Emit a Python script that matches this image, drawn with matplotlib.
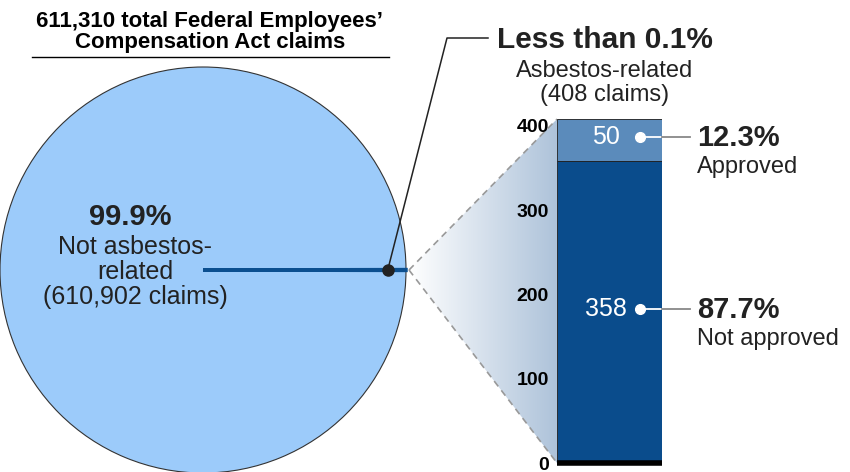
import numpy as np
import matplotlib
matplotlib.use('Agg')
import matplotlib.pyplot as plt
from matplotlib.patches import Polygon
from matplotlib.colors import LinearSegmentedColormap

plt.rcParams['font.family'] = ['Liberation Sans', 'DejaVu Sans']

# data
total_claims = 611310
claim_groups = ['Not asbestos-related', 'Asbestos-related']
claim_counts = [610902, 408]
status_labels = ['Not approved', 'Approved']
status_counts = [358, 50]
status_pcts = [87.7, 12.3]
bar_ticks = [0, 100, 200, 300, 400]

TXT = '#222222'
W, H = 850, 472

fig = plt.figure(figsize=(8.5, 4.72), dpi=100)
# overlay axes in pixel units (y up)
ax = fig.add_axes([0, 0, 1, 1])

# pie
cx, cy, r = 203, 202, 203
small_frac = claim_counts[1] / sum(claim_counts)
start = -small_frac * 360 / 2
wedges, _ = ax.pie(claim_counts[::-1], colors=['#0b4f8f', '#9ccbfa'],
                   startangle=start, center=(cx, cy), radius=r)
wedges[0].set_edgecolor('#0b4f8f')
wedges[0].set_linewidth(2.5)
wedges[0].set_zorder(3)
wedges[1].set_edgecolor('#333333')
wedges[1].set_linewidth(0.8)
ax.set_xlim(0, W)
ax.set_ylim(0, H)
ax.set_aspect('auto')
ax.axis('off')

# bar axes
px = 0.843  # pixels per claim on the bar scale
bax = fig.add_axes([557 / W, 9 / H, 105 / W, 420 * px / H])
bax.patch.set_visible(False)
bax.set_xlim(-0.5, 0.5)
bax.set_ylim(0, 420)
bax.bar(0, status_counts[0], width=1, color='#0a4c8c', edgecolor='#1a1a1a', linewidth=0.6)
bax.bar(0, status_counts[1], bottom=status_counts[0], width=1, color='#5b8bbb',
        edgecolor='#1a1a1a', linewidth=0.6)
bax.set_yticks(bar_ticks)
bax.set_yticklabels([str(t) for t in bar_ticks], fontsize=14, fontweight='bold', color='black')
bax.tick_params(axis='y', length=0, pad=6)
bax.set_xticks([])
for s in ['top', 'right', 'left']:
    bax.spines[s].set_visible(False)
bax.spines['bottom'].set_linewidth(4)
bax.spines['bottom'].set_color('black')
bax.spines['bottom'].set_capstyle('butt')

# segment labels and callouts
bottoms = [0, status_counts[0]]
for cnt, b, pct, lab in zip(status_counts, bottoms, status_pcts, status_labels):
    ym = b + cnt / 2 + 4
    bax.text(-0.03, ym, str(cnt), color='white', fontsize=18, ha='center', va='center')
    bax.plot([0.29, 0.5], [ym, ym], color='white', lw=1.3, clip_on=False)
    bax.plot([0.5, 0.77], [ym, ym], color='#888888', lw=1.3, clip_on=False)
    bax.plot(0.29, ym, 'o', color='white', ms=7, clip_on=False)
    bax.annotate(f'{pct}%', (0.83, ym), xytext=(0, -1), textcoords='offset points',
                 fontsize=21, fontweight='bold', color=TXT, ha='left', va='center',
                 annotation_clip=False)
    bax.annotate(lab, (0.83, ym), xytext=(0, -22), textcoords='offset points',
                 fontsize=17, color=TXT, ha='left', va='center', annotation_clip=False)

# gradient zoom wedge from pie edge to bar
inv = ax.transData.inverted()
top_pt = inv.transform(bax.transData.transform((-0.5, sum(status_counts))))
bot_pt = inv.transform(bax.transData.transform((-0.5, 0)))
apex = (cx + r + 3, cy)
poly = Polygon([apex, top_pt, bot_pt], closed=True, facecolor='none', edgecolor='none')
ax.add_patch(poly)
cmap = LinearSegmentedColormap.from_list('zoom', ['#ffffff', '#aec3da'])
grad = np.linspace(0, 1, 256).reshape(1, -1)
im = ax.imshow(grad, cmap=cmap, extent=[apex[0], top_pt[0], bot_pt[1], top_pt[1]],
               aspect='auto', zorder=0.5, origin='lower')
im.set_clip_path(poly)
for p in (top_pt, bot_pt):
    ax.plot([apex[0], p[0]], [apex[1], p[1]], ls=(0, (4, 3)), color='#999999', lw=1.2)

# leader from small wedge to its label
dot = (cx + 0.91 * r, cy)
ax.plot([dot[0], 447, 488], [dot[1], H - 38, H - 38], color='#222222', lw=1.1, zorder=4)
ax.plot(*dot, 'o', color='#222222', ms=8, zorder=5)

# texts
ax.text(210, H - 32, f'{total_claims:,} total Federal Employees\u2019\nCompensation Act claims',
        fontsize=16, fontweight='bold', ha='center', va='center', color='black', linespacing=1.05)
ax.plot([32, 389], [H - 57, H - 57], color='black', lw=1)

big_pct = claim_counts[0] / total_claims * 100
ax.text(130, H - 217, f'{big_pct:.1f}%', fontsize=21, fontweight='bold', ha='center',
        va='center', color=TXT)
ax.text(135, H - 272, f'Not asbestos-\nrelated\n({claim_counts[0]:,} claims)', fontsize=18,
        ha='center', va='center', color=TXT, linespacing=1.03)

ax.text(605, H - 40, 'Less than 0.1%', fontsize=21.5, fontweight='bold', ha='center',
        va='center', color=TXT)
ax.text(605, H - 83, f'{claim_groups[1]}\n({claim_counts[1]} claims)', fontsize=17,
        ha='center', va='center', color=TXT, linespacing=1.08)

ax.set_xlim(0, W)
ax.set_ylim(0, H)

fig.savefig('out.png', dpi=100)
